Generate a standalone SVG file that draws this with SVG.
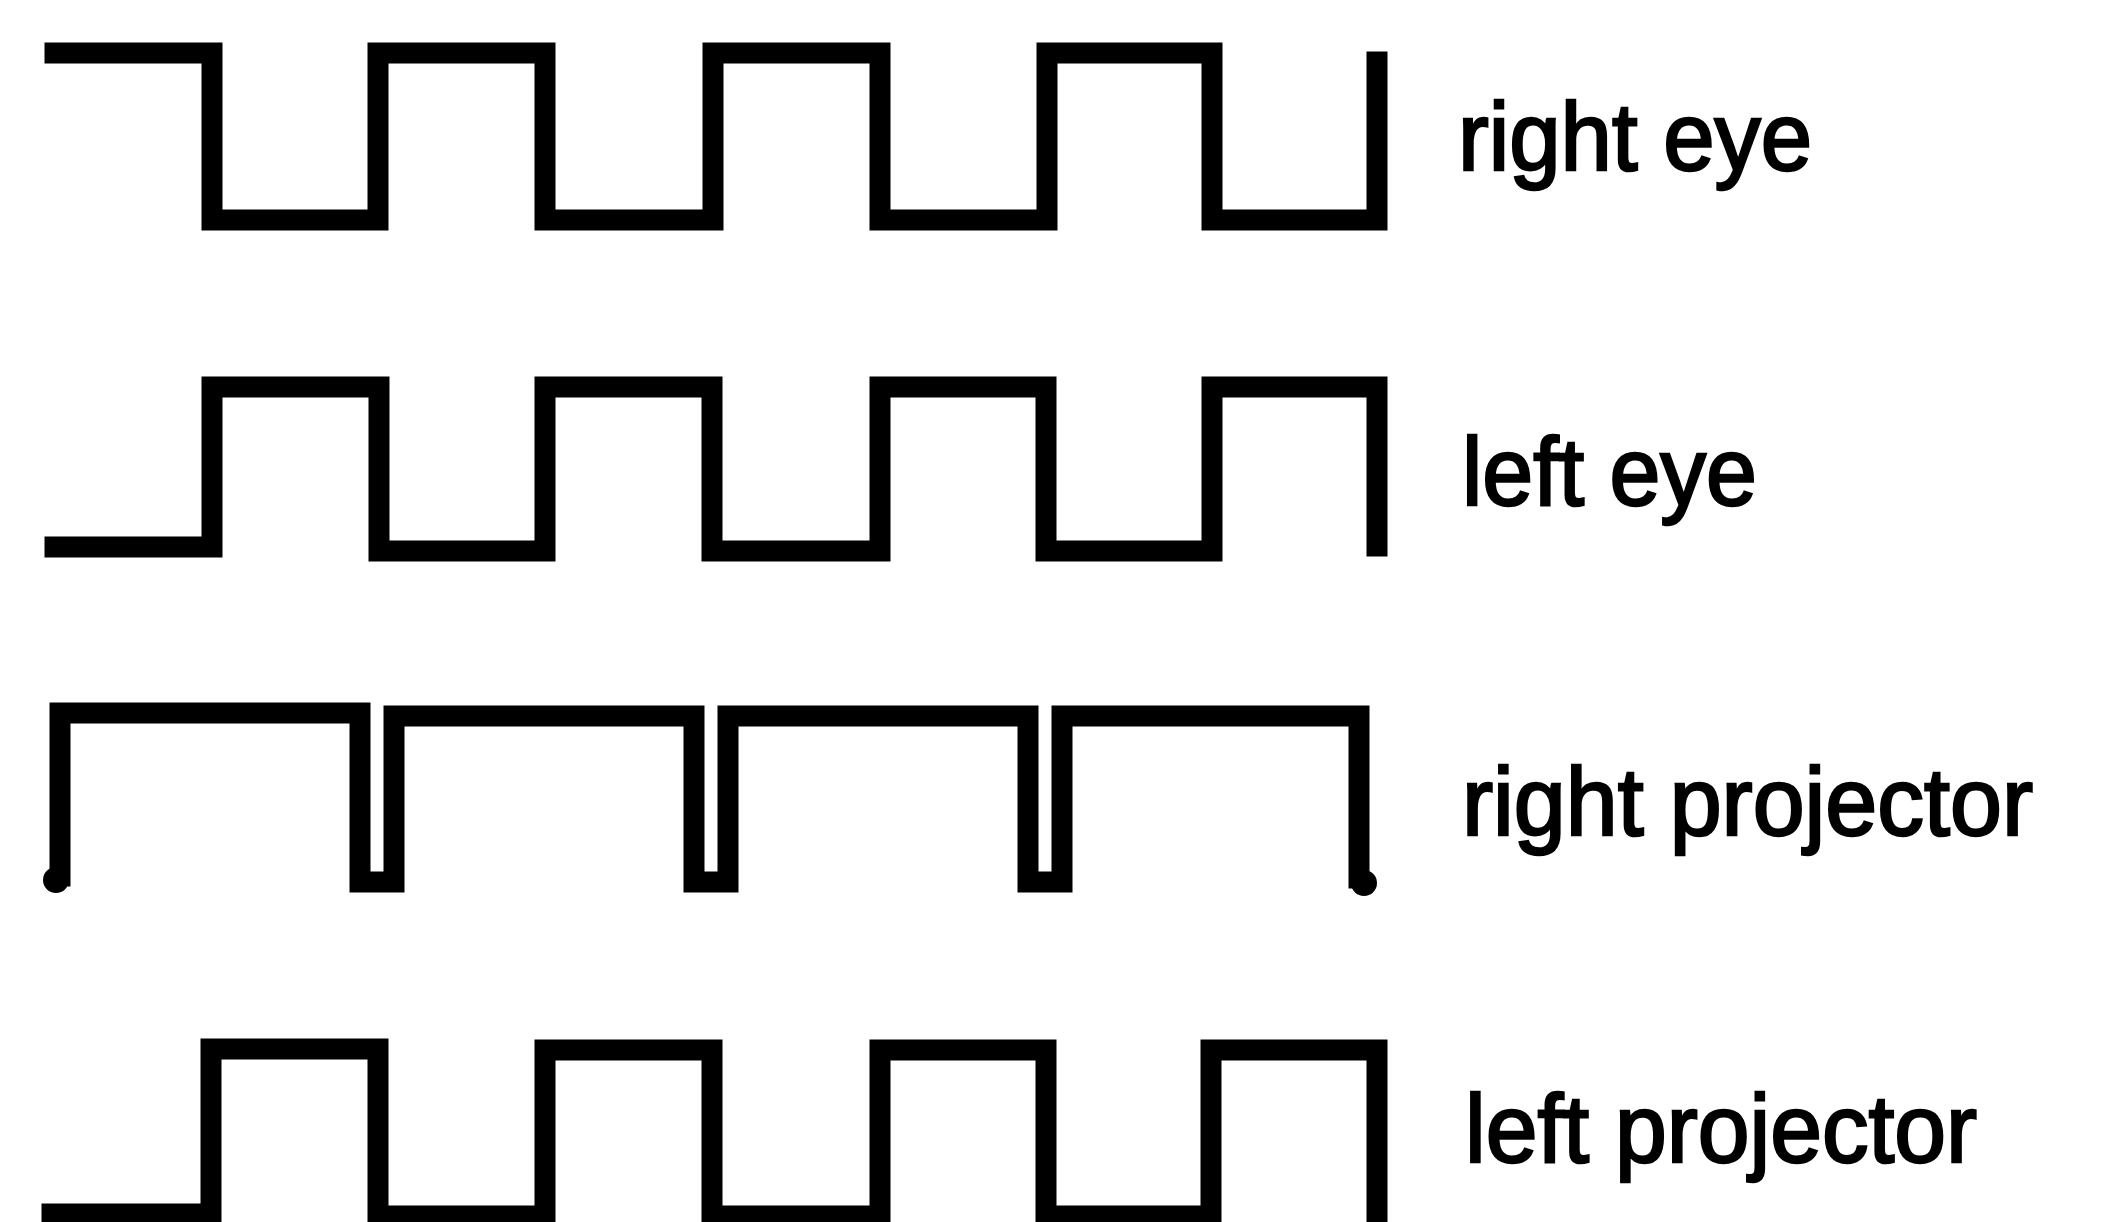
<svg xmlns="http://www.w3.org/2000/svg" width="2104" height="1222" viewBox="0 0 2104 1222">
<style>
.wave{fill:none;stroke:#000;stroke-width:21;stroke-linejoin:miter;stroke-linecap:square}
.lbl{font-family:"Liberation Sans",Arial,sans-serif;font-size:96px;fill:#000;stroke:#000;stroke-width:2.5}
</style>
<rect width="2104" height="1222" fill="#fff"/>
<g id="right-eye">
<path class="wave" d="M55,53 H212 V220 H378 V53 H545 V220 H713 V53 H880 V220 H1047 V53 H1212 V220 H1377 V62"/>
<text class="lbl" x="1458" y="170" textLength="354" lengthAdjust="spacingAndGlyphs">right eye</text>
</g>
<g id="left-eye">
<path class="wave" d="M55,547 H212 V387 H379 V551 H545 V387 H712 V551 H880 V387 H1046 V551 H1212 V387 H1377 V546"/>
<text class="lbl" x="1462" y="505" textLength="295" lengthAdjust="spacingAndGlyphs">left eye</text>
</g>
<g id="right-projector">
<path class="wave" d="M60,876 V713 H360 V882 H394 V716 H694 V882 H728 V716 H1028 V882 H1062 V716 H1359 V878"/>
<circle cx="56" cy="880" r="13" fill="#000"/>
<circle cx="1364" cy="883" r="13" fill="#000"/>
<text class="lbl" x="1462" y="835" textLength="571" lengthAdjust="spacingAndGlyphs">right projector</text>
</g>
<g id="left-projector">
<path class="wave" d="M52,1214 H211 V1049 H378 V1216 H545 V1050 H712 V1216 H880 V1050 H1046 V1216 H1211 V1050 H1377 V1232"/>
<text class="lbl" x="1465" y="1162" textLength="512" lengthAdjust="spacingAndGlyphs">left projector</text>
</g>
</svg>
